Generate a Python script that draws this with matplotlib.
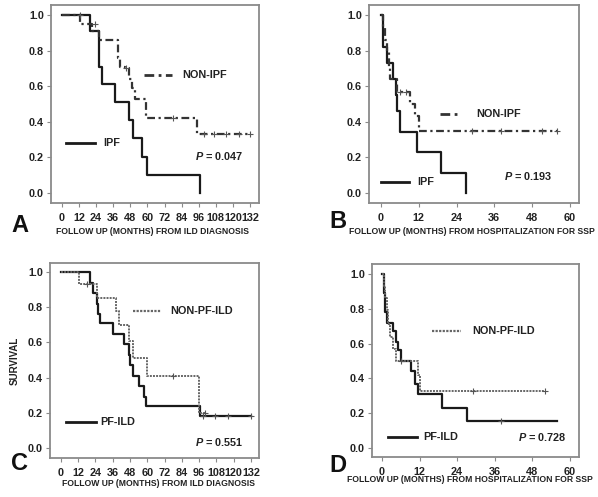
import numpy as np
import matplotlib
matplotlib.use("Agg")
import matplotlib.pyplot as plt

plt.rcParams['font.family'] = ['Liberation Sans', 'DejaVu Sans']
plt.rcParams['mathtext.fontset'] = 'custom'
plt.rcParams['mathtext.bfit'] = 'Liberation Sans:bold:italic'

# ---- data ----
# panel A: from ILD diagnosis
a_ipf_t = [0, 20, 26, 28, 37, 47, 50, 56, 60, 97]
a_ipf_s = [1.0, 0.91, 0.71, 0.61, 0.51, 0.41, 0.31, 0.20, 0.10, 0.0]
a_non_t = [0, 13, 21, 26, 39, 41, 44, 47, 49, 51, 59, 95]
a_non_s = [1.0, 0.95, 0.91, 0.86, 0.76, 0.71, 0.70, 0.64, 0.59, 0.53, 0.42, 0.33]
a_non_end = 132
a_non_cens_t = [13, 23, 45, 78, 100, 107, 115, 124, 132]
a_non_cens_s = [1.0, 0.95, 0.70, 0.42, 0.33, 0.33, 0.33, 0.33, 0.33]

# panel B: from hospitalization for SSP
b_ipf_t = [0, 0.5, 1.8, 3.8, 4.7, 5.2, 6.2, 11.5, 19, 27]
b_ipf_s = [1.0, 0.82, 0.73, 0.64, 0.55, 0.46, 0.34, 0.23, 0.11, 0.0]
b_non_t = [0, 0.7, 1.2, 1.8, 2.5, 3, 5, 9.2, 10.8, 12]
b_non_s = [1.0, 0.93, 0.86, 0.79, 0.71, 0.64, 0.57, 0.50, 0.43, 0.35]
b_non_end = 56
b_non_cens_t = [6, 8, 29, 38, 51, 56]
b_non_cens_s = [0.57, 0.57, 0.35, 0.35, 0.35, 0.35]

# panel C: from ILD diagnosis
c_pf_t = [0, 20, 22.5, 25, 26, 27, 36, 44, 47, 48, 50, 54.5, 58, 59, 96.5]
c_pf_s = [1.0, 0.94, 0.88, 0.82, 0.76, 0.71, 0.65, 0.59, 0.53, 0.47, 0.41, 0.35, 0.29, 0.24, 0.18]
c_pf_end = 132
c_pf_cens_t = [99, 107, 116, 132]
c_pf_cens_s = [0.18, 0.18, 0.18, 0.18]
c_non_t = [0, 12.5, 25, 38, 40, 47, 50, 59.5, 96]
c_non_s = [1.0, 0.93, 0.85, 0.78, 0.70, 0.61, 0.51, 0.41, 0.20]
c_non_end = 100
c_non_cens_t = [18, 78, 100]
c_non_cens_s = [0.93, 0.41, 0.20]

# panel D: from hospitalization for SSP
d_pf_t = [0, 0.5, 0.8, 1.0, 1.6, 3.5, 4.6, 5.0, 6.2, 9.4, 10.4, 11.5, 19, 27]
d_pf_s = [1.0, 0.89, 0.83, 0.78, 0.72, 0.67, 0.61, 0.56, 0.50, 0.44, 0.37, 0.31, 0.23, 0.155]
d_pf_end = 56
d_pf_cens_t = [38]
d_pf_cens_s = [0.155]
d_non_t = [0, 0.5, 1, 1.5, 2, 2.5, 3.5, 4.6, 11.5, 12]
d_non_s = [1.0, 0.93, 0.86, 0.79, 0.71, 0.64, 0.57, 0.50, 0.42, 0.33]
d_non_end = 52
d_non_cens_t = [6, 29, 52]
d_non_cens_s = [0.50, 0.33, 0.33]

ticks_ild = list(range(0, 133, 12))
ticks_ssp = list(range(0, 61, 12))
yticks = [0.0, 0.2, 0.4, 0.6, 0.8, 1.0]

W, H = 598, 497
fig = plt.figure(figsize=(W / 100, H / 100), dpi=100)
txt = '#222222'

def px_axes(left, top, right, bottom):
    return fig.add_axes([left / W, 1 - bottom / H, (right - left) / W, (bottom - top) / H])

def style(ax, xticks, xlim, ylim):
    ax.set_xlim(*xlim)
    ax.set_ylim(*ylim)
    ax.set_xticks(xticks)
    ax.set_yticks(yticks)
    ax.set_yticklabels(['%.1f' % v for v in yticks])
    for sp in ax.spines.values():
        sp.set_color('#8a8a8a')
        sp.set_linewidth(1.3)
    ax.tick_params(direction='out', length=3, width=0.8, color='#8a8a8a',
                   labelsize=7.8, labelcolor=txt, pad=2)
    ax.tick_params(axis='x', pad=4)
    for lab in ax.get_xticklabels() + ax.get_yticklabels():
        lab.set_fontweight('bold')

def km(ax, t, s, end, color, ls, lw=1.6):
    tt = list(t) + ([end] if end is not None else [])
    ss = list(s) + ([s[-1]] if end is not None else [])
    ax.step(tt, ss, where='post', color=color, linestyle=ls, linewidth=lw)

def cens(ax, t, s, color='#555555'):
    ax.plot(t, s, linestyle='none', marker='+', markersize=4, color=color, mew=0.8)

def leg(ax, x0, x1, y, text, tx, color, ls, lw=2.0):
    ax.plot([x0, x1], [y, y], transform=ax.transAxes, color=color, linestyle=ls, linewidth=lw)
    ax.text(tx, y, text, transform=ax.transAxes, va='center', ha='left',
            fontsize=7.8, fontweight='bold', color=txt)

def pval(ax, x, y, val):
    ax.text(x, y, r'$\mathbfit{P}$' + ' = ' + val, transform=ax.transAxes, va='center', ha='left',
            fontsize=7.8, fontweight='bold', color=txt)

def xlab(x, y, s):
    fig.text(x / W, 1 - y / H, s, ha='center', va='center', fontsize=6.2, fontweight='bold', color=txt)

def letter(x, y, s):
    fig.text(x / W, 1 - y / H, s, ha='center', va='center', fontsize=17, fontweight='bold', color='#111111')

dashdot = (0, (3.5, 1.6, 1, 1.6))
dotted = (0, (1, 0.6))

# A
ax = px_axes(51, 5, 259, 203)
km(ax, a_ipf_t, a_ipf_s, None, '#1a1a1a', '-')
km(ax, a_non_t, a_non_s, a_non_end, '#333333', dashdot)
cens(ax, a_non_cens_t, a_non_cens_s)
style(ax, ticks_ild, (-7.7, 138.3), (-0.056, 1.056))
leg(ax, 0.447, 0.582, 0.646, 'NON-IPF', 0.63, '#333333', dashdot)
leg(ax, 0.072, 0.212, 0.303, 'IPF', 0.25, '#1a1a1a', '-')
pval(ax, 0.692, 0.237, '0.047')
xlab(152, 232, 'FOLLOW UP (MONTHS) FROM ILD DIAGNOSIS')
letter(20, 226, 'A')

# B
ax = px_axes(369, 5, 579, 203)
km(ax, b_ipf_t, b_ipf_s, None, '#1a1a1a', '-')
km(ax, b_non_t, b_non_s, b_non_end, '#333333', dashdot)
cens(ax, b_non_cens_t, b_non_cens_s)
style(ax, ticks_ssp, (-3.8, 62.9), (-0.056, 1.056))
leg(ax, 0.338, 0.419, 0.45, 'NON-IPF', 0.51, '#333333', dashdot)
leg(ax, 0.057, 0.19, 0.106, 'IPF', 0.229, '#1a1a1a', '-')
pval(ax, 0.643, 0.136, '0.193')
xlab(472, 232, 'FOLLOW UP (MONTHS) FROM HOSPITALIZATION FOR SSP')
letter(338, 222, 'B')

# C
ax = px_axes(50, 263, 259, 458)
km(ax, c_pf_t, c_pf_s, c_pf_end, '#1a1a1a', '-')
km(ax, c_non_t, c_non_s, c_non_end, '#666666', dotted, lw=1.4)
cens(ax, c_pf_cens_t, c_pf_cens_s)
cens(ax, c_non_cens_t, c_non_cens_s)
style(ax, ticks_ild, (-7.6, 137.6), (-0.057, 1.051))
ax.set_ylabel('SURVIVAL', fontsize=7, fontweight='bold', color=txt, labelpad=6)
leg(ax, 0.397, 0.531, 0.754, 'NON-PF-ILD', 0.574, '#666666', dotted, lw=1.6)
leg(ax, 0.077, 0.22, 0.185, 'PF-ILD', 0.239, '#1a1a1a', '-')
pval(ax, 0.694, 0.082, '0.551')
xlab(158, 483, 'FOLLOW UP (MONTHS) FROM ILD DIAGNOSIS')
letter(19, 463, 'C')

# D
ax = px_axes(372, 264, 579, 457)
km(ax, d_pf_t, d_pf_s, d_pf_end, '#1a1a1a', '-')
km(ax, d_non_t, d_non_s, d_non_end, '#666666', dotted, lw=1.4)
cens(ax, d_pf_cens_t, d_pf_cens_s)
cens(ax, d_non_cens_t, d_non_cens_s)
style(ax, ticks_ssp, (-3.2, 62.9), (-0.052, 1.057))
leg(ax, 0.29, 0.43, 0.653, 'NON-PF-ILD', 0.483, '#666666', dotted, lw=1.6)
leg(ax, 0.077, 0.217, 0.104, 'PF-ILD', 0.246, '#1a1a1a', '-')
pval(ax, 0.705, 0.104, '0.728')
xlab(470, 480, 'FOLLOW UP (MONTHS) FROM HOSPITALIZATION FOR SSP')
letter(338, 465, 'D')

fig.savefig('out.png', dpi=100)
